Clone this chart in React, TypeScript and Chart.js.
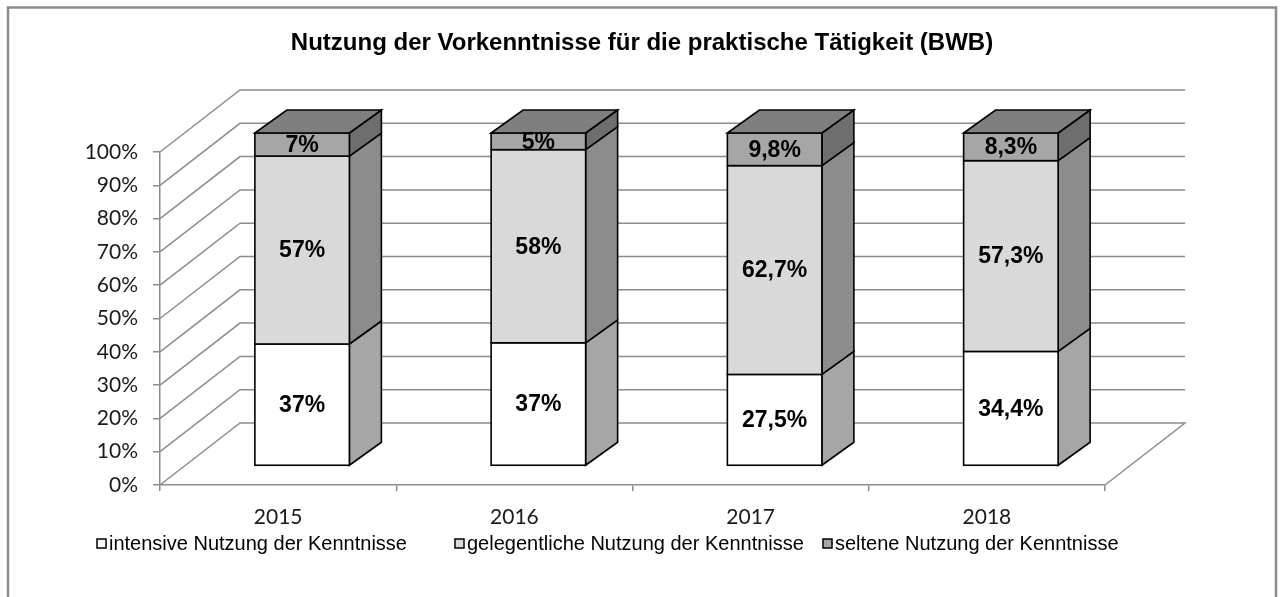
import React, { useEffect, useRef } from "react";
import { Chart, registerables } from "chart.js";

Chart.register(...registerables);

const chartTitle = "Nutzung der Vorkenntnisse für die praktische Tätigkeit (BWB)";
const categories = ["2015", "2016", "2017", "2018"];
const seriesNames = [
  "intensive Nutzung der Kenntnisse",
  "gelegentliche Nutzung der Kenntnisse",
  "seltene Nutzung der Kenntnisse",
];
const intensive = [37, 37, 27.5, 34.4];
const gelegentlich = [57, 58, 62.7, 57.3];
const selten = [7, 5, 9.8, 8.3];
const yMin = 0;
const yMax = 100;
const yStep = 10;

const frontColors = ["#ffffff", "#d9d9d9", "#a6a6a6"];
const sideColors = ["#a6a6a6", "#8c8c8c", "#6e6e6e"];
const topColor = "#7f7f7f";
const gridColor = "#8c8c8c";

const WALL = { dx: 80, dy: -62 };
const FRONT = { dx: 24, dy: -19 };
const DEPTH = { dx: 32, dy: -23 };

const raw = [intensive, gelegentlich, selten];
const totals = categories.map((_, i) => raw.reduce((s, arr) => s + arr[i], 0));
const normalized = raw.map((arr) => arr.map((v, i) => (v / totals[i]) * 100));

const fmt = new Intl.NumberFormat("de-DE", { maximumFractionDigits: 1 });

const threeD = {
  id: "threeD",
  beforeDatasetsDraw(chart: any) {
    const { ctx, chartArea: a, scales } = chart;
    const y = scales.y;
    ctx.save();
    ctx.strokeStyle = gridColor;
    ctx.lineWidth = 1.5;
    y.ticks.forEach((t: any) => {
      const py = y.getPixelForValue(t.value);
      ctx.beginPath();
      ctx.moveTo(a.left, py);
      ctx.lineTo(a.left + WALL.dx, py + WALL.dy);
      ctx.lineTo(a.right + WALL.dx, py + WALL.dy);
      if (t.value === yMin) ctx.lineTo(a.right, py);
      ctx.stroke();
    });
    ctx.restore();
  },
  afterDatasetsDraw(chart: any) {
    const { ctx } = chart;
    const n = chart.data.datasets.length;
    ctx.save();
    ctx.lineWidth = 1.6;
    ctx.strokeStyle = "#000";
    ctx.lineJoin = "miter";
    const metas = [];
    for (let d = 0; d < n; d++) metas.push(chart.getDatasetMeta(d));
    for (let i = 0; i < categories.length; i++) {
      for (let d = 0; d < n; d++) {
        const el = metas[d].data[i];
        const x0 = el.x - el.width / 2 + FRONT.dx;
        const x1 = el.x + el.width / 2 + FRONT.dx;
        const yTop = el.y + FRONT.dy;
        const yBot = el.base + FRONT.dy;
        ctx.beginPath();
        ctx.moveTo(x1, yBot);
        ctx.lineTo(x1 + DEPTH.dx, yBot + DEPTH.dy);
        ctx.lineTo(x1 + DEPTH.dx, yTop + DEPTH.dy);
        ctx.lineTo(x1, yTop);
        ctx.closePath();
        ctx.fillStyle = sideColors[d];
        ctx.fill();
        ctx.stroke();
        ctx.fillStyle = frontColors[d];
        ctx.fillRect(x0, yTop, x1 - x0, yBot - yTop);
        ctx.strokeRect(x0, yTop, x1 - x0, yBot - yTop);
        if (d === n - 1) {
          ctx.beginPath();
          ctx.moveTo(x0, yTop);
          ctx.lineTo(x0 + DEPTH.dx, yTop + DEPTH.dy);
          ctx.lineTo(x1 + DEPTH.dx, yTop + DEPTH.dy);
          ctx.lineTo(x1, yTop);
          ctx.closePath();
          ctx.fillStyle = topColor;
          ctx.fill();
          ctx.stroke();
        }
      }
    }
    ctx.fillStyle = "#000";
    ctx.font = "bold 23px 'Liberation Sans', Arial, sans-serif";
    ctx.textAlign = "center";
    ctx.textBaseline = "middle";
    for (let i = 0; i < categories.length; i++) {
      for (let d = 0; d < n; d++) {
        const el = metas[d].data[i];
        const cx = el.x + FRONT.dx;
        const cy = (el.y + el.base) / 2 + FRONT.dy + 1;
        ctx.fillText(fmt.format(raw[d][i]) + "%", cx, cy);
      }
    }
    ctx.restore();
  },
  afterDraw(chart: any) {
    const { ctx } = chart;
    ctx.save();
    ctx.strokeStyle = "#8c8c8c";
    ctx.lineWidth = 2.5;
    ctx.strokeRect(8, 7.5, 1268, 620);
    ctx.fillStyle = "#000";
    ctx.font = "bold 24px 'Liberation Sans', Arial, sans-serif";
    ctx.textAlign = "center";
    ctx.textBaseline = "middle";
    ctx.fillText(chartTitle, 642, 43);
    const lx = [97, 455, 823];
    ctx.font = "20px 'Liberation Sans', Arial, sans-serif";
    ctx.textAlign = "left";
    ctx.lineWidth = 1.5;
    ctx.strokeStyle = "#000";
    for (let k = 0; k < seriesNames.length; k++) {
      ctx.fillStyle = frontColors[k];
      ctx.fillRect(lx[k], 539, 9, 9);
      ctx.strokeRect(lx[k], 539, 9, 9);
      ctx.fillStyle = "#000";
      ctx.fillText(seriesNames[k], lx[k] + 12, 544);
    }
    ctx.restore();
  },
};

export default function App() {
  const ref = useRef<HTMLCanvasElement | null>(null);
  useEffect(() => {
    document.body.style.margin = "0";
    const canvas = ref.current!;
    const tickFont = { family: "Lato, 'Open Sans', sans-serif", size: 21 };
    const chart = new Chart(canvas, {
      type: "bar",
      data: {
        labels: categories,
        datasets: seriesNames.map((name, d) => ({
          label: name,
          data: normalized[d],
          backgroundColor: "rgba(0,0,0,0)",
          borderWidth: 0,
          categoryPercentage: 0.8,
          barPercentage: 0.5,
        })),
      },
      options: {
        responsive: false,
        animation: false,
        devicePixelRatio: 1,
        layout: { padding: { left: 0, right: 175, top: 152, bottom: 0 } },
        plugins: {
          legend: { display: false },
          title: { display: false },
          tooltip: { enabled: false },
        },
        scales: {
          x: {
            stacked: true,
            grid: {
              drawOnChartArea: false,
              drawTicks: true,
              tickLength: 6,
              color: gridColor,
              lineWidth: 1.5,
              offset: true,
            },
            border: { color: gridColor, width: 1.5 },
            ticks: { font: tickFont, color: "#1a1a1a", padding: 14 },
            afterFit: (s: any) => {
              s.height = 112;
            },
          },
          y: {
            stacked: true,
            min: yMin,
            max: yMax,
            ticks: {
              stepSize: yStep,
              font: tickFont,
              color: "#1a1a1a",
              padding: 15,
              callback: (v: any) => v + "%",
            },
            grid: {
              drawOnChartArea: false,
              drawTicks: true,
              tickLength: 7,
              color: gridColor,
              lineWidth: 1.5,
            },
            border: { color: gridColor, width: 1.5 },
            afterFit: (s: any) => {
              s.width = 160;
            },
          },
        },
      },
      plugins: [threeD],
    });
    return () => chart.destroy();
  }, []);
  return (
    <div style={{ width: 1280, height: 597, background: "#fff" }}>
      <canvas ref={ref} width={1280} height={597} style={{ display: "block" }} />
    </div>
  );
}
